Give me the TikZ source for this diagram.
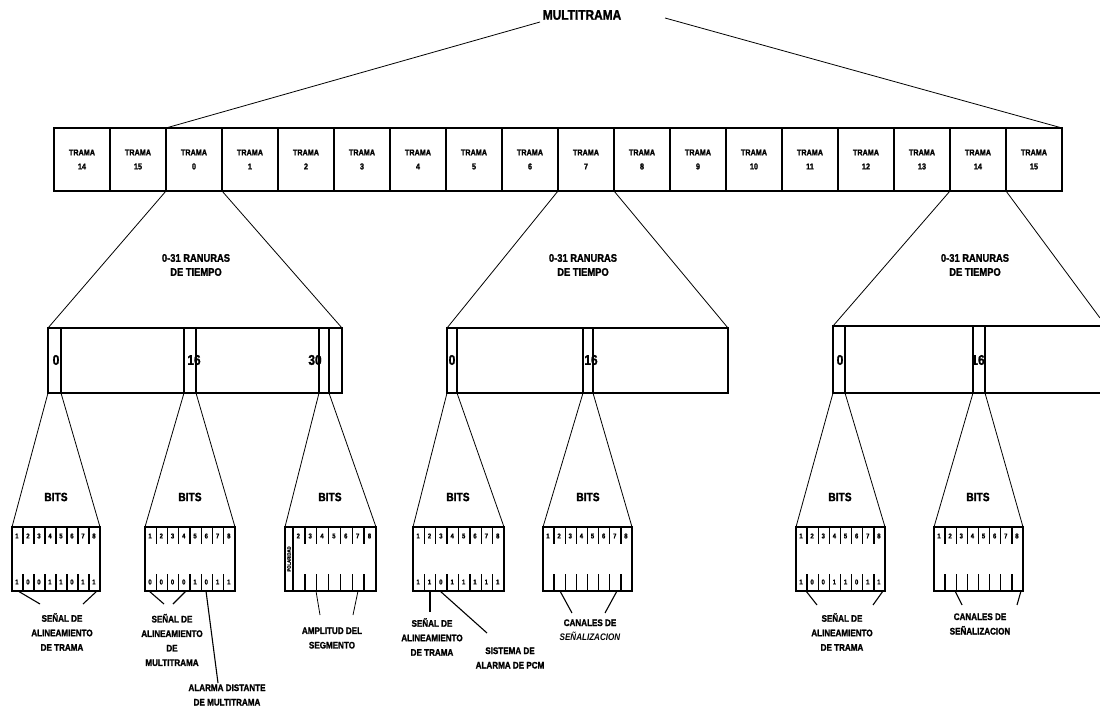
\documentclass[tikz,border=0pt]{standalone}
\usepackage{fontspec}
\setmainfont{Liberation Sans}[FakeStretch=0.85, BoldFeatures={FakeBold=1.5}]
\usetikzlibrary{calc}
\newcommand\rnode[6]{%
  \pgfmathsetmacro\rncx{(#3+#5)/2}%
  \pgfmathsetmacro\rncy{(#4+#6)/2}%
  \pgfmathsetmacro\rnw{#5-#3}%
  \pgfmathsetmacro\rnh{#6-#4}%
  \node[#2, minimum width=\rnw pt, minimum height=\rnh pt] (#1) at (\rncx,\rncy) {};}
% standard 8-bit box internals: #1 name, #2 top digits, #3 bottom digits
\newcommand\bitcols[3]{%
  \foreach \i in {1,...,7} {
    \draw[tick] ($(#1.north west)!\i/8!(#1.north east)$) -- ++(0,17);
    \draw[tick] ($(#1.south west)!\i/8!(#1.south east)$) -- ++(0,-17);
  }
  \foreach \d [count=\i] in {#2} {
    \path ($(#1.north west)!{(\i-0.55)/8}!(#1.north east)$) ++(0,9) node[bitdig] (#1t\i) {\d};
  }
  \foreach \d [count=\i] in {#3} {
    \path ($(#1.south west)!{(\i-0.55)/8}!(#1.south east)$) ++(0,-9) node[bitdig] (#1b\i) {\d};
  }}
\begin{document}
\begin{tikzpicture}[x=1pt,y=-1pt,
  every node/.style={font=\bfseries},
  frm/.style={draw, line width=1.4pt, inner sep=0pt, outer sep=0pt, align=center,
              font=\bfseries\fontsize{8.5}{14}\selectfont},
  tsbox/.style={draw, line width=1.8pt, inner sep=0pt, outer sep=0pt},
  bitbox/.style={draw, line width=2pt, inner sep=0pt, outer sep=0pt},
  tick/.style={line width=1.4pt},
  thinline/.style={line width=0.8pt},
  lblline/.style={line width=1.1pt},
  bitdig/.style={inner sep=0pt, font=\bfseries\fontsize{7}{7}\selectfont},
  slotlbl/.style={inner sep=0pt, font=\bfseries\fontsize{14}{14}\selectfont},
  ranlbl/.style={align=center, inner sep=0pt, font=\bfseries\fontsize{11}{14}\selectfont},
  bitslbl/.style={inner sep=0pt, font=\bfseries\fontsize{12}{12}\selectfont},
  desc/.style={align=center, inner sep=0pt, font=\bfseries\fontsize{9.5}{14.5}\selectfont}]
\fill[white] (0,0) rectangle (1100,708);
\useasboundingbox (0,0) rectangle (1100,708);

% ---------- multiframe ----------
\node[inner sep=0pt, font=\bfseries\fontsize{14}{14}\selectfont] (mt) at (582,15) {MULTITRAMA};
\coordinate (mtl) at (540,22);
\coordinate (mtr) at (665,18);

\foreach \lab [count=\k from 0] in {14,15,0,1,2,3,4,5,6,7,8,9,10,11,12,13,14,15} {
  \pgfmathsetmacro\fcx{54+56*\k+28}
  \node[frm, minimum width=56pt, minimum height=63pt] (f\k) at (\fcx,159.5) {TRAMA\\\lab};
}
\draw[thinline] (mtl) -- (f2.north west);
\draw[thinline] (mtr) -- (f17.north east);

% ---------- time-slot boxes ----------
\node[ranlbl] (rn1) at (196,265) {0-31 RANURAS\\DE TIEMPO};
\node[ranlbl] (rn2) at (583,265) {0-31 RANURAS\\DE TIEMPO};
\node[ranlbl] (rn3) at (975,265) {0-31 RANURAS\\DE TIEMPO};

\node[slotlbl] (l1a) at (56,360) {0};
\node[slotlbl] (l1b) at (194,360) {16};
\node[slotlbl] (l1c) at (315,360) {30};
\node[slotlbl] (l2a) at (452,360) {0};
\node[slotlbl] (l2b) at (591,360) {16};
\node[slotlbl] (l3a) at (840,360) {0};
\node[slotlbl] (l3b) at (978,360) {16};

\rnode{ts1}{tsbox}{48}{328}{342}{393}
\rnode{s1a}{tsbox}{48}{328}{61}{393}
\rnode{s1b}{tsbox}{184}{328}{196}{393}
\rnode{s1c}{tsbox}{319}{328}{329}{393}
\rnode{ts2}{tsbox}{447}{328}{728}{393}
\rnode{s2a}{tsbox}{447}{328}{457}{393}
\rnode{s2b}{tsbox}{583}{328}{593}{393}
\rnode{ts3}{tsbox}{833}{326}{1106}{393}
\rnode{s3a}{tsbox}{833}{326}{845}{393}
\rnode{s3b}{tsbox}{973}{326}{985}{393}
\coordinate (ts3e) at (1100,318);

\draw[thinline] (f2.south west) -- (ts1.north west);
\draw[thinline] (f2.south east) -- (ts1.north east);
\draw[thinline] (f9.south west) -- (ts2.north west);
\draw[thinline] (f9.south east) -- (ts2.north east);
\draw[thinline] (f16.south west) -- (ts3.north west);
\draw[thinline] (f16.south east) -- (ts3e);

% ---------- bit boxes ----------
\rnode{b1}{bitbox}{12}{527}{100}{591}
\rnode{b2}{bitbox}{145}{527}{235}{591}
\rnode{b3}{bitbox}{285}{527}{376}{591}
\rnode{b4}{bitbox}{413}{527}{504}{591}
\rnode{b5}{bitbox}{543}{527}{632}{591}
\rnode{b6}{bitbox}{796}{527}{885}{591}
\rnode{b7}{bitbox}{934}{527}{1023}{591}

\node[bitslbl] (bt1) at (56,497) {BITS};
\node[bitslbl] (bt2) at (190,497) {BITS};
\node[bitslbl] (bt3) at (330,497) {BITS};
\node[bitslbl] (bt4) at (458,497) {BITS};
\node[bitslbl] (bt5) at (588,497) {BITS};
\node[bitslbl] (bt6) at (840,497) {BITS};
\node[bitslbl] (bt7) at (978,497) {BITS};

\draw[thinline] (s1a.south west) -- (b1.north west);
\draw[thinline] (s1a.south east) -- (b1.north east);
\draw[thinline] (s1b.south west) -- (b2.north west);
\draw[thinline] (s1b.south east) -- (b2.north east);
\draw[thinline] (s1c.south west) -- (b3.north west);
\draw[thinline] (s1c.south east) -- (b3.north east);
\draw[thinline] (s2a.south west) -- (b4.north west);
\draw[thinline] (s2a.south east) -- (b4.north east);
\draw[thinline] (s2b.south west) -- (b5.north west);
\draw[thinline] (s2b.south east) -- (b5.north east);
\draw[thinline] (s3a.south west) -- (b6.north west);
\draw[thinline] (s3a.south east) -- (b6.north east);
\draw[thinline] (s3b.south west) -- (b7.north west);
\draw[thinline] (s3b.south east) -- (b7.north east);

\bitcols{b1}{1,2,3,4,5,6,7,8}{1,0,0,1,1,0,1,1}
\bitcols{b2}{1,2,3,4,5,6,7,8}{0,0,0,0,1,0,1,1}
\bitcols{b4}{1,2,3,4,5,6,7,8}{1,1,0,1,1,1,1,1}
\bitcols{b5}{1,2,3,4,5,6,7,8}{}
\bitcols{b6}{1,2,3,4,5,6,7,8}{1,0,0,1,1,0,1,1}
\bitcols{b7}{1,2,3,4,5,6,7,8}{}

% box 3: narrow first column + 7 columns
\coordinate (b3nw) at ($(b3.north west)+(8,0)$);
\coordinate (b3sw) at ($(b3.south west)+(8,0)$);
\draw[tick] (b3nw) -- (b3sw);
\node[inner sep=0pt, rotate=90, font=\bfseries\fontsize{5}{5}\selectfont] (b3p) at ($(b3.west)+(4,0)$) {POLARIDAD};
\foreach \i in {1,...,6} {
  \draw[tick] ($(b3nw)!\i/7!(b3.north east)$) -- ++(0,17);
  \draw[tick] ($(b3sw)!\i/7!(b3.south east)$) -- ++(0,-17);
}
\foreach \d [count=\i] in {2,3,4,5,6,7,8} {
  \path ($(b3nw)!{(\i-0.55)/7}!(b3.north east)$) ++(0,9) node[bitdig] (b3t\i) {\d};
}

% ---------- descriptions ----------
\node[desc] (d1) at (62,632) {SEÑAL DE\\ALINEAMIENTO\\DE TRAMA};
\coordinate (d1a) at (18,591);  \coordinate (d1ae) at (40,604);
\coordinate (d1b) at (97,591);  \coordinate (d1be) at (83,604);
\draw[lblline] (d1a) -- (d1ae);
\draw[lblline] (d1b) -- (d1be);

\node[desc] (d2) at (172,640) {SEÑAL DE\\ALINEAMIENTO\\DE\\MULTITRAMA};
\coordinate (d2a) at (149,591); \coordinate (d2ae) at (164,604);
\coordinate (d2b) at (186,591); \coordinate (d2be) at (173,604);
\draw[lblline] (d2a) -- (d2ae);
\draw[lblline] (d2b) -- (d2be);
\node[desc] (d2c) at (227,695) {ALARMA DISTANTE\\DE MULTITRAMA};
\coordinate (d2c0) at (206,591); \coordinate (d2ce) at (218,683);
\draw[lblline] (d2c0) -- (d2ce);

\node[desc] (d3) at (332,638) {AMPLITUD DEL\\SEGMENTO};
\coordinate (d3a) at (316,591); \coordinate (d3ae) at (320,615);
\coordinate (d3b) at (358,591); \coordinate (d3be) at (353,615);
\draw[thinline] (d3a) -- (d3ae);
\draw[thinline] (d3b) -- (d3be);

\node[desc] (d4) at (432,637) {SEÑAL DE\\ALINEAMIENTO\\DE TRAMA};
\coordinate (d4a) at (430,591); \coordinate (d4ae) at (430,612);
\draw[line width=1.8pt] (d4a) -- (d4ae);
\node[desc] (d4b) at (510,658) {SISTEMA DE\\ALARMA DE PCM};
\coordinate (d4b0) at (440,591); \coordinate (d4be) at (487,633);
\draw[lblline] (d4b0) -- (d4be);

\node[desc] (d5) at (590,630) {CANALES DE\\\textit{SEÑALIZACION}};
\coordinate (d5a) at (560,591); \coordinate (d5ae) at (572,613);
\coordinate (d5b) at (617,591); \coordinate (d5be) at (605,613);
\draw[lblline] (d5a) -- (d5ae);
\draw[lblline] (d5b) -- (d5be);

\node[desc] (d6) at (842,632) {SEÑAL DE\\ALINEAMIENTO\\DE TRAMA};
\coordinate (d6a) at (806,591); \coordinate (d6ae) at (817,605);
\coordinate (d6b) at (883,591); \coordinate (d6be) at (873,605);
\draw[lblline] (d6a) -- (d6ae);
\draw[lblline] (d6b) -- (d6be);

\node[desc] (d7) at (980,624) {CANALES DE\\SEÑALIZACION};
\coordinate (d7a) at (955,591); \coordinate (d7ae) at (962,605);
\coordinate (d7b) at (1021,591); \coordinate (d7be) at (1017,605);
\draw[lblline] (d7a) -- (d7ae);
\draw[lblline] (d7b) -- (d7be);
\end{tikzpicture}
\end{document}
